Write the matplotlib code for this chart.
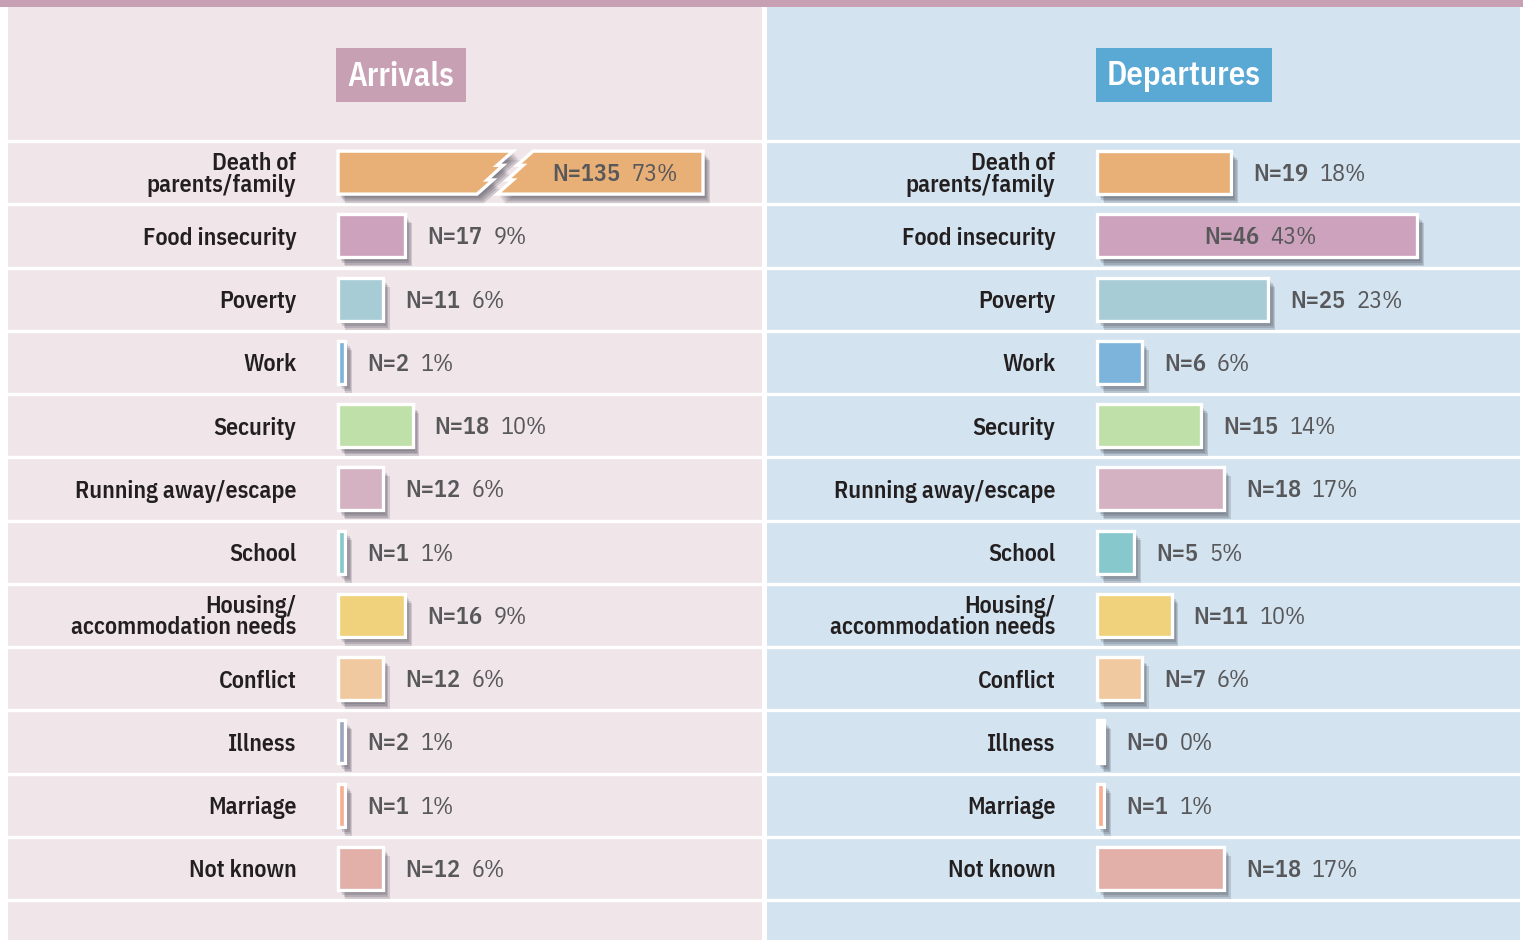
import matplotlib
matplotlib.use("Agg")
import matplotlib.pyplot as plt
from matplotlib.patches import Rectangle, Polygon
import matplotlib.patheffects as pe
import numpy as np

# ---------------- data ----------------
categories = ["Death of\nparents/family", "Food insecurity", "Poverty", "Work", "Security",
              "Running away/escape", "School", "Housing/\naccommodation needs", "Conflict",
              "Illness", "Marriage", "Not known"]
arrivals_n = [135, 17, 11, 2, 18, 12, 1, 16, 12, 2, 1, 12]
arrivals_pct = [73, 9, 6, 1, 10, 6, 1, 9, 6, 1, 1, 6]
departures_n = [19, 46, 25, 6, 15, 18, 5, 11, 7, 0, 1, 18]
departures_pct = [18, 43, 23, 6, 14, 17, 5, 10, 6, 0, 1, 17]
bar_colors = ["#e8b077", "#cda2bd", "#a8ccd6", "#7db4dc", "#bfe0a8", "#d4b2c2",
              "#86c8cc", "#f0d27c", "#f0c9a0", "#9ea6c0", "#f8ae90", "#e2b0a8"]
panel_titles = ["Arrivals", "Departures"]

# ---------------- layout ----------------
W, H = 1523, 940
PX_PER_PCT = 7.45
ROW_H = 63.25
FONT = ["IBM Plex Sans Condensed", "DejaVu Sans"]
TXT = "#231f20"
VAL = "#58585a"

fig = plt.figure(figsize=(W / 100, H / 100), dpi=100)
fig.patch.set_facecolor("white")

def fx(x):
    return x / W

def fy(y):
    return 1 - y / H

# top stripe
fig.add_artist(Rectangle((0, fy(7)), 1, 7 / H, transform=fig.transFigure,
                         facecolor="#c8a0b4", edgecolor="none", zorder=0.5))

shadow = [pe.SimplePatchShadow(offset=(o, -o * 1.3), shadow_rgbFace="#2a2a38", alpha=0.16)
          for o in (1.0, 2.0, 3.0, 4.0, 5.0)] + [pe.Normal()]

BREAK_CAP = 49.0      # displayed length of a broken bar (in % units)
BREAK_AT = 23.5       # where the break starts on the top edge
BREAK_GAP = 20 / PX_PER_PCT
ZIG_X = np.array([0, -16, -10, -26, -20, -36]) / PX_PER_PCT
ZIG_T = np.array([0, 0.33, 0.33, 0.67, 0.67, 1.0])
BAR_H = 0.68

panels = [
    dict(x0=8, x1=762, base=338, bg="#f0e6ea", n=arrivals_n, pct=arrivals_pct,
         box=(336, 48, 130, 54), boxc="#c8a0b4"),
    dict(x0=767, x1=1520, base=1097, bg="#d3e3ef", n=departures_n, pct=departures_pct,
         box=(1096, 48, 176, 54), boxc="#5aa9d5"),
]

nrows = len(categories)
ypos = np.arange(nrows)

for p, title in zip(panels, panel_titles):
    ax = fig.add_axes([fx(p["x0"]), 0, (p["x1"] - p["x0"]) / W, (H - 7) / H])
    ax.set_facecolor(p["bg"])
    ax.set_xlim(-(p["base"] - p["x0"]) / PX_PER_PCT, (p["x1"] - p["base"]) / PX_PER_PCT)
    ax.set_ylim(nrows - 0.5 + (H - 900) / ROW_H, -0.5 - (141 - 7) / ROW_H)
    for s in ax.spines.values():
        s.set_visible(False)
    ax.spines["left"].set_position(("data", 0))
    ax.set_xticks([])
    ax.set_yticks(ypos)
    ax.set_yticklabels(categories, fontfamily=FONT, fontweight=600, fontsize=17.2,
                       color=TXT, linespacing=0.92)
    ax.tick_params(axis="y", length=0, pad=30)

    for b in np.arange(-0.5, nrows + 0.5, 1):
        ax.axhline(b, color="white", lw=2.4, zorder=1)

    pct = np.array(p["pct"], dtype=float)
    broken = pct > BREAK_CAP
    widths = np.where(broken, 0, np.maximum(pct, 1))
    faces = [c if v > 0 else "white" for c, v in zip(bar_colors, pct)]
    bars = ax.barh(ypos, widths, height=BAR_H, color=faces, edgecolor="white",
                   linewidth=2.4, zorder=3)
    for i, r in enumerate(bars.patches):
        if broken[i]:
            r.set_visible(False)
        r.set_path_effects(shadow)

    for i in ypos:
        n, v = p["n"][i], p["pct"][i]
        yt, yb = i - BAR_H / 2, i + BAR_H / 2
        if broken[i]:
            zx = BREAK_AT + ZIG_X
            zy = yt + ZIG_T * BAR_H
            left = [(0, yt)] + list(zip(zx, zy)) + [(0, yb)]
            right = [(BREAK_CAP, yt), (BREAK_CAP, yb)] + list(zip(zx + BREAK_GAP, zy))[::-1]
            for verts in (left, right):
                poly = Polygon(verts, closed=True, facecolor=bar_colors[i],
                               edgecolor="white", linewidth=2.4, zorder=3)
                poly.set_path_effects(shadow)
                ax.add_patch(poly)
            cx = (BREAK_AT + BREAK_GAP + BREAK_CAP) / 2
        elif v >= 40:
            cx = v / 2
        else:
            cx = None

        if cx is not None:
            t1 = ax.annotate(f"N={n}", xy=(cx, i), xytext=(1.5, -1.5), textcoords="offset points",
                             ha="right", va="center", fontfamily=FONT, fontweight=600,
                             fontsize=17.5, color=VAL, zorder=5)
        else:
            t1 = ax.annotate(f"N={n}", xy=(widths[i], i), xytext=(16, -1.5),
                             textcoords="offset points", ha="left", va="center",
                             fontfamily=FONT, fontweight=600, fontsize=17.5, color=VAL,
                             zorder=5)
        ax.annotate(f"{v}%", xy=(1, 0.5), xycoords=t1, xytext=(8, 0),
                    textcoords="offset points", ha="left", va="center",
                    fontfamily=FONT, fontweight=400, fontsize=17.5, color=VAL, zorder=5)

    bx, by, bw, bh = p["box"]
    fig.add_artist(Rectangle((fx(bx), fy(by + bh)), bw / W, bh / H, transform=fig.transFigure,
                             facecolor=p["boxc"], edgecolor="none", zorder=2))
    fig.text(fx(bx + bw / 2), fy(by + bh / 2) + 2 / H, title, ha="center", va="center_baseline",
             fontfamily=FONT, fontweight=600, fontsize=23.5, color="white", zorder=3)

fig.savefig("out.png", dpi=100, facecolor=fig.get_facecolor())
